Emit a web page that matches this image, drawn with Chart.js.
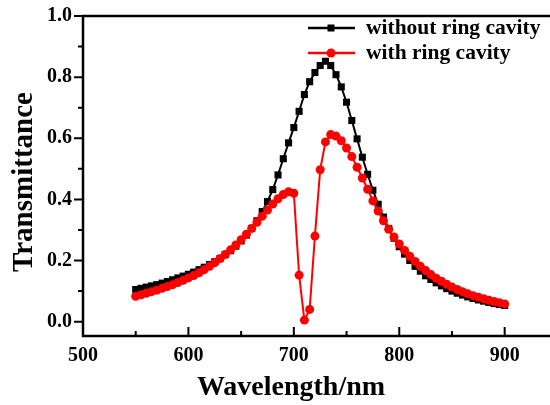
<!DOCTYPE html>
<html lang="en">

<head>
    <meta charset="UTF-8">
    <title>Transmittance</title>
    <style>
        body { margin: 0; background: #fff; }
        #wrap { width: 550px; height: 405px; }
    </style>
</head>

<body>
    <div id="wrap"><canvas id="chart" width="550" height="405"></canvas></div>

    <script src="https://cdn.jsdelivr.net/npm/chart.js@4.4.3/dist/chart.umd.min.js"></script>

    <script>
        // wavelength (nm), 5 nm step
        const wavelength = []
        for (let w = 550; w <= 900; w += 5) wavelength.push(w)

        const withoutRing = [
            0.105, 0.109, 0.113, 0.117, 0.121, 0.126, 0.131, 0.137, 0.143, 0.149,
            0.155, 0.162, 0.170, 0.178, 0.187, 0.196, 0.207, 0.219, 0.232, 0.247,
            0.264, 0.283, 0.305, 0.330, 0.360, 0.393, 0.432, 0.480, 0.533, 0.585,
            0.635, 0.688, 0.743, 0.785, 0.815, 0.838, 0.852, 0.838, 0.808, 0.768,
            0.718, 0.658, 0.598, 0.538, 0.482, 0.430, 0.384, 0.342, 0.305, 0.273,
            0.245, 0.221, 0.200, 0.181, 0.165, 0.150, 0.138, 0.127, 0.117, 0.108,
            0.100, 0.093, 0.087, 0.081, 0.076, 0.071, 0.067, 0.063, 0.059, 0.056,
            0.053
        ]

        const withRing = [
            0.083, 0.088, 0.093, 0.098, 0.103, 0.109, 0.115, 0.121, 0.128, 0.135,
            0.143, 0.151, 0.160, 0.170, 0.181, 0.193, 0.206, 0.220, 0.235, 0.251,
            0.268, 0.286, 0.305, 0.325, 0.345, 0.365, 0.385, 0.402, 0.416, 0.425,
            0.420, 0.152, 0.005, 0.040, 0.280, 0.497, 0.588, 0.612, 0.607, 0.592,
            0.568, 0.540, 0.505, 0.470, 0.433, 0.395, 0.362, 0.330, 0.302, 0.277,
            0.254, 0.233, 0.214, 0.197, 0.181, 0.167, 0.154, 0.142, 0.132, 0.122,
            0.113, 0.105, 0.098, 0.091, 0.085, 0.080, 0.075, 0.070, 0.066, 0.062,
            0.058
        ]

        const xTicks = [500, 600, 700, 800, 900]
        const xMinor = [550, 650, 750, 850]
        const yTicks = [0, 0.2, 0.4, 0.6, 0.8, 1.0]
        const yMinor = [0.1, 0.3, 0.5, 0.7, 0.9]

        const FONT = "'Liberation Serif', 'Times New Roman', serif"

        // axis frame, tick marks, axis titles and legend
        const framePlugin = {
            id: 'frame',
            afterDraw(chart) {
                const ctx = chart.ctx
                const a = chart.chartArea
                const xs = chart.scales.x
                const ys = chart.scales.y
                ctx.save()
                ctx.strokeStyle = '#000'
                ctx.lineWidth = 2.5
                ctx.beginPath()
                ctx.moveTo(a.left, a.top)
                ctx.lineTo(a.left, a.bottom)
                ctx.moveTo(a.left - 1.25, a.bottom)
                ctx.lineTo(a.right, a.bottom)
                ctx.moveTo(a.left - 1.25, a.top)
                ctx.lineTo(a.right, a.top)
                ctx.stroke()

                ctx.lineWidth = 2
                ctx.beginPath()
                yTicks.forEach(v => {
                    const p = ys.getPixelForValue(v)
                    ctx.moveTo(a.left - 9, p)
                    ctx.lineTo(a.left, p)
                })
                yMinor.forEach(v => {
                    const p = ys.getPixelForValue(v)
                    ctx.moveTo(a.left - 5, p)
                    ctx.lineTo(a.left, p)
                })
                xTicks.forEach(v => {
                    const p = xs.getPixelForValue(v)
                    ctx.moveTo(p, a.bottom)
                    ctx.lineTo(p, a.bottom - 9)
                })
                xMinor.forEach(v => {
                    const p = xs.getPixelForValue(v)
                    ctx.moveTo(p, a.bottom)
                    ctx.lineTo(p, a.bottom - 5)
                })
                ctx.stroke()

                // axis titles
                ctx.fillStyle = '#000'
                ctx.font = `bold 28px ${FONT}`
                ctx.textAlign = 'center'
                ctx.textBaseline = 'middle'
                ctx.fillText('Wavelength/nm', 291, 388)

                ctx.save()
                ctx.translate(25, 182)
                ctx.rotate(-Math.PI / 2)
                ctx.font = `bold 29px ${FONT}`
                ctx.fillText('Transmittance', 0, 0)
                ctx.restore()

                // legend
                ctx.font = `bold 21.5px ${FONT}`
                ctx.textAlign = 'left'
                chart.data.datasets.forEach((ds, i) => {
                    const ly = 28 + i * 25
                    ctx.strokeStyle = ds.borderColor
                    ctx.lineWidth = 2.5
                    ctx.beginPath()
                    ctx.moveTo(308, ly)
                    ctx.lineTo(355, ly)
                    ctx.stroke()
                    ctx.fillStyle = ds.borderColor
                    if (ds.pointStyle === 'rect') {
                        ctx.fillRect(327.5, ly - 3.5, 7, 7)
                    } else {
                        ctx.beginPath()
                        ctx.arc(331, ly, 4.5, 0, Math.PI * 2)
                        ctx.fill()
                    }
                    ctx.fillStyle = '#000'
                    ctx.fillText(ds.label, 366, ly)
                })
                ctx.restore()
            }
        }

        const ctx = document.getElementById('chart').getContext('2d')

        new Chart(ctx, {
            type: 'line',
            data: {
                datasets: [{
                    label: 'without ring cavity',
                    data: wavelength.map((w, i) => ({ x: w, y: withoutRing[i] })),
                    borderColor: '#000000',
                    backgroundColor: '#000000',
                    borderWidth: 2,
                    pointStyle: 'rect',
                    pointRadius: 5,
                    pointBorderWidth: 0,
                    tension: 0,
                    order: 2,
                }, {
                    label: 'with ring cavity',
                    data: wavelength.map((w, i) => ({ x: w, y: withRing[i] })),
                    borderColor: '#ff0000',
                    backgroundColor: '#ff0000',
                    borderWidth: 2,
                    pointStyle: 'circle',
                    pointRadius: 4.5,
                    pointBorderWidth: 0,
                    tension: 0,
                    order: 1,
                }],
            },
            options: {
                responsive: false,
                animation: false,
                layout: { autoPadding: false, padding: { top: 16, right: 0, left: 0, bottom: 0 } },
                plugins: {
                    legend: { display: false },
                    tooltip: { enabled: false },
                },
                scales: {
                    x: {
                        type: 'linear',
                        min: 500,
                        max: 943,
                        afterBuildTicks: s => { s.ticks = xTicks.map(v => ({ value: v })) },
                        afterFit: s => {
                            s.height = 69
                            s.paddingLeft = 0
                            s.paddingRight = 0
                        },
                        grid: { display: false, drawTicks: true, tickLength: 8 },
                        border: { display: false },
                        ticks: {
                            color: '#000',
                            padding: 0,
                            maxRotation: 0,
                            font: { family: FONT, size: 20, weight: 'bold' },
                        },
                    },
                    y: {
                        type: 'linear',
                        min: -0.047,
                        max: 1.0,
                        afterBuildTicks: s => { s.ticks = yTicks.map(v => ({ value: v })) },
                        afterFit: s => {
                            s.width = 83
                            s.paddingTop = 0
                            s.paddingBottom = 0
                        },
                        grid: { display: false, drawTicks: true, tickLength: 11 },
                        border: { display: false },
                        ticks: {
                            color: '#000',
                            padding: 0,
                            callback: v => v.toFixed(1),
                            font: { family: FONT, size: 20, weight: 'bold' },
                        },
                    },
                },
            },
            plugins: [framePlugin],
        })
    </script>

</body>

</html>
